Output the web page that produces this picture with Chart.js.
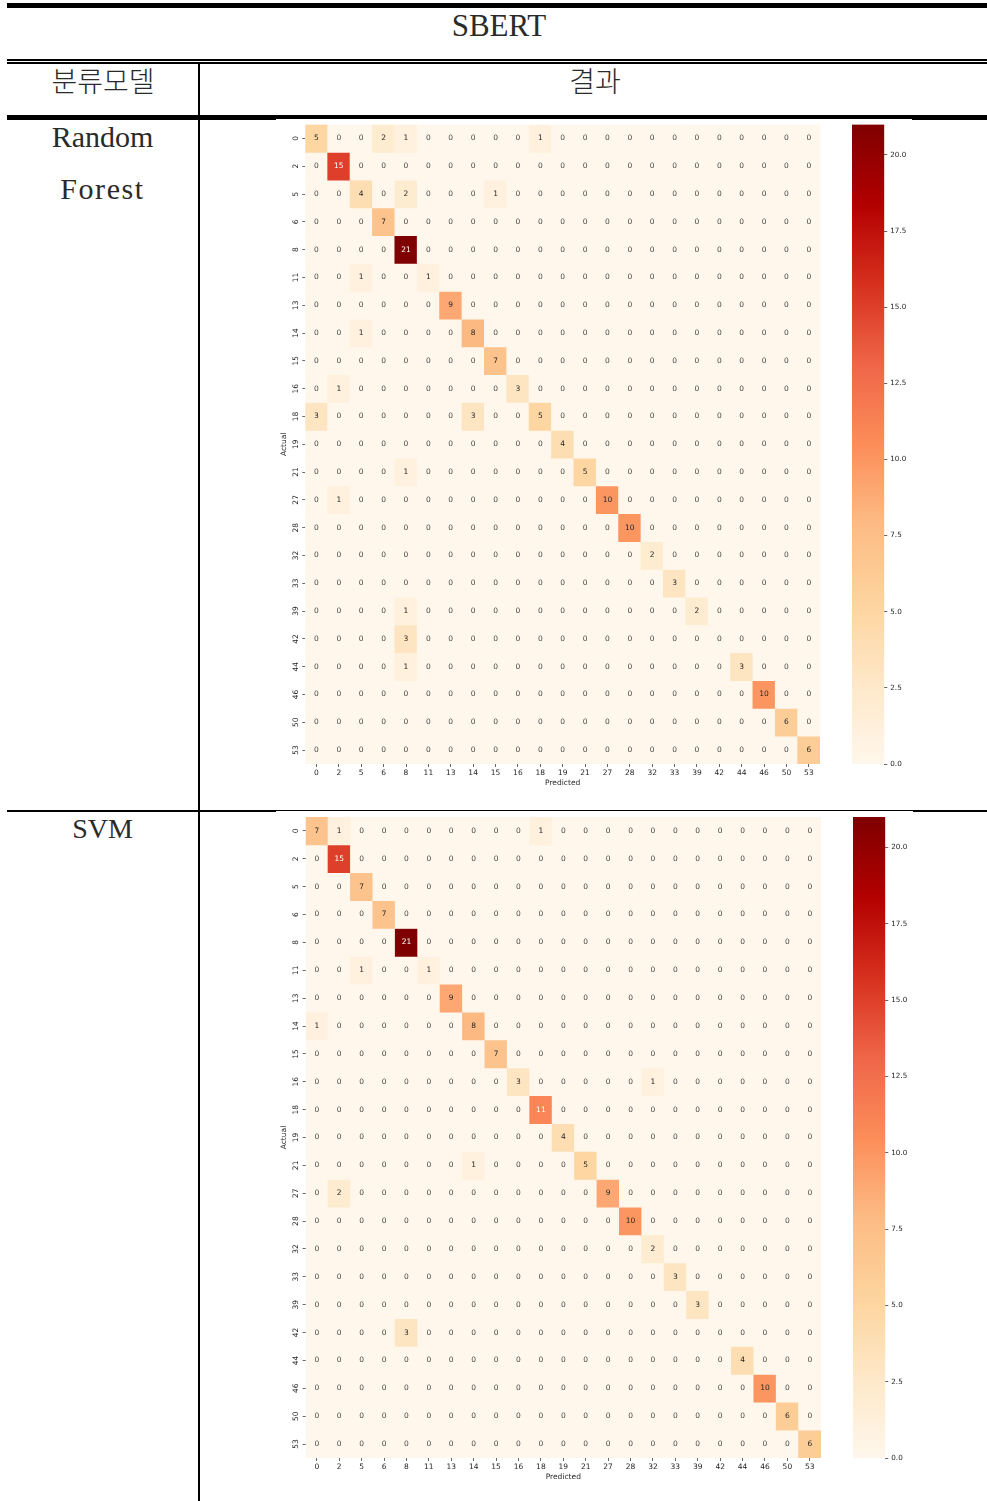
<!DOCTYPE html>
<html lang="ko">
<head>
<meta charset="utf-8">
<title>SBERT</title>
<script src="https://cdn.jsdelivr.net/npm/chart.js@4"></script>
<style>
    html, body { margin: 0; padding: 0; background: #fff; }
    #page { position: relative; width: 987px; height: 1501px; overflow: hidden; }
    .rule { position: absolute; background: #000; }
    .cell-text {
        position: absolute;
        transform: translate(-50%, -50%);
        line-height: 1;
        white-space: nowrap;
        color: #2a2a2a;
        font-family: "Liberation Serif", serif;
        font-size: 30px;
    }
    .ko { font-family: "Noto Sans CJK KR", sans-serif; font-size: 28px; font-weight: 300; }
    canvas { position: absolute; filter: blur(0.5px); }
</style>
</head>
<body>
<div id="page">
    <div class="rule" style="left:7px;top:3px;width:980px;height:5px"></div>
    <div class="rule" style="left:7px;top:59px;width:980px;height:2px"></div>
    <div class="rule" style="left:7px;top:62px;width:980px;height:2px"></div>
    <div class="rule" style="left:198px;top:64px;width:2px;height:1437px"></div>
    <div class="rule" style="left:7px;top:115px;width:269px;height:5px"></div>
    <div class="rule" style="left:276px;top:115px;width:636px;height:4px"></div>
    <div class="rule" style="left:912px;top:115px;width:75px;height:5px"></div>
    <div class="rule" style="left:7px;top:810px;width:269px;height:2px"></div>
    <div class="rule" style="left:276px;top:810px;width:637px;height:1px"></div>
    <div class="rule" style="left:913px;top:810px;width:74px;height:2px"></div>

    <div class="cell-text" style="left:499px;top:25px;font-size:31px">SBERT</div>
    <div class="cell-text ko" style="left:103px;top:80px">분류모델</div>
    <div class="cell-text ko" style="left:595px;top:80px">결과</div>
    <div class="cell-text" style="left:102.5px;top:137px">Random</div>
    <div class="cell-text" style="left:102.5px;top:189px;letter-spacing:1.6px">Forest</div>
    <div class="cell-text" style="left:102.5px;top:829px;font-size:28px">SVM</div>

    <canvas id="matriz-rf" width="555" height="675" style="left:275px;top:118px"></canvas>
    <canvas id="barra-rf" width="80" height="675" style="left:845px;top:118px"></canvas>
    <canvas id="matriz-svm" width="555" height="677" style="left:275px;top:810px"></canvas>
    <canvas id="barra-svm" width="80" height="677" style="left:846px;top:810px"></canvas>
</div>

<script>
const classLabels = ["0","2","5","6","8","11","13","14","15","16","18","19","21","27","28","32","33","39","42","44","46","50","53"];
const colorbarMax = 21;

//Random Forest, one line per actual class
const rfValues = [
    [5,0,0,2,1,0,0,0,0,0,1,0,0,0,0,0,0,0,0,0,0,0,0],
    [0,15,0,0,0,0,0,0,0,0,0,0,0,0,0,0,0,0,0,0,0,0,0],
    [0,0,4,0,2,0,0,0,1,0,0,0,0,0,0,0,0,0,0,0,0,0,0],
    [0,0,0,7,0,0,0,0,0,0,0,0,0,0,0,0,0,0,0,0,0,0,0],
    [0,0,0,0,21,0,0,0,0,0,0,0,0,0,0,0,0,0,0,0,0,0,0],
    [0,0,1,0,0,1,0,0,0,0,0,0,0,0,0,0,0,0,0,0,0,0,0],
    [0,0,0,0,0,0,9,0,0,0,0,0,0,0,0,0,0,0,0,0,0,0,0],
    [0,0,1,0,0,0,0,8,0,0,0,0,0,0,0,0,0,0,0,0,0,0,0],
    [0,0,0,0,0,0,0,0,7,0,0,0,0,0,0,0,0,0,0,0,0,0,0],
    [0,1,0,0,0,0,0,0,0,3,0,0,0,0,0,0,0,0,0,0,0,0,0],
    [3,0,0,0,0,0,0,3,0,0,5,0,0,0,0,0,0,0,0,0,0,0,0],
    [0,0,0,0,0,0,0,0,0,0,0,4,0,0,0,0,0,0,0,0,0,0,0],
    [0,0,0,0,1,0,0,0,0,0,0,0,5,0,0,0,0,0,0,0,0,0,0],
    [0,1,0,0,0,0,0,0,0,0,0,0,0,10,0,0,0,0,0,0,0,0,0],
    [0,0,0,0,0,0,0,0,0,0,0,0,0,0,10,0,0,0,0,0,0,0,0],
    [0,0,0,0,0,0,0,0,0,0,0,0,0,0,0,2,0,0,0,0,0,0,0],
    [0,0,0,0,0,0,0,0,0,0,0,0,0,0,0,0,3,0,0,0,0,0,0],
    [0,0,0,0,1,0,0,0,0,0,0,0,0,0,0,0,0,2,0,0,0,0,0],
    [0,0,0,0,3,0,0,0,0,0,0,0,0,0,0,0,0,0,0,0,0,0,0],
    [0,0,0,0,1,0,0,0,0,0,0,0,0,0,0,0,0,0,0,3,0,0,0],
    [0,0,0,0,0,0,0,0,0,0,0,0,0,0,0,0,0,0,0,0,10,0,0],
    [0,0,0,0,0,0,0,0,0,0,0,0,0,0,0,0,0,0,0,0,0,6,0],
    [0,0,0,0,0,0,0,0,0,0,0,0,0,0,0,0,0,0,0,0,0,0,6]
];

//SVM, one line per actual class
const svmValues = [
    [7,1,0,0,0,0,0,0,0,0,1,0,0,0,0,0,0,0,0,0,0,0,0],
    [0,15,0,0,0,0,0,0,0,0,0,0,0,0,0,0,0,0,0,0,0,0,0],
    [0,0,7,0,0,0,0,0,0,0,0,0,0,0,0,0,0,0,0,0,0,0,0],
    [0,0,0,7,0,0,0,0,0,0,0,0,0,0,0,0,0,0,0,0,0,0,0],
    [0,0,0,0,21,0,0,0,0,0,0,0,0,0,0,0,0,0,0,0,0,0,0],
    [0,0,1,0,0,1,0,0,0,0,0,0,0,0,0,0,0,0,0,0,0,0,0],
    [0,0,0,0,0,0,9,0,0,0,0,0,0,0,0,0,0,0,0,0,0,0,0],
    [1,0,0,0,0,0,0,8,0,0,0,0,0,0,0,0,0,0,0,0,0,0,0],
    [0,0,0,0,0,0,0,0,7,0,0,0,0,0,0,0,0,0,0,0,0,0,0],
    [0,0,0,0,0,0,0,0,0,3,0,0,0,0,0,1,0,0,0,0,0,0,0],
    [0,0,0,0,0,0,0,0,0,0,11,0,0,0,0,0,0,0,0,0,0,0,0],
    [0,0,0,0,0,0,0,0,0,0,0,4,0,0,0,0,0,0,0,0,0,0,0],
    [0,0,0,0,0,0,0,1,0,0,0,0,5,0,0,0,0,0,0,0,0,0,0],
    [0,2,0,0,0,0,0,0,0,0,0,0,0,9,0,0,0,0,0,0,0,0,0],
    [0,0,0,0,0,0,0,0,0,0,0,0,0,0,10,0,0,0,0,0,0,0,0],
    [0,0,0,0,0,0,0,0,0,0,0,0,0,0,0,2,0,0,0,0,0,0,0],
    [0,0,0,0,0,0,0,0,0,0,0,0,0,0,0,0,3,0,0,0,0,0,0],
    [0,0,0,0,0,0,0,0,0,0,0,0,0,0,0,0,0,3,0,0,0,0,0],
    [0,0,0,0,3,0,0,0,0,0,0,0,0,0,0,0,0,0,0,0,0,0,0],
    [0,0,0,0,0,0,0,0,0,0,0,0,0,0,0,0,0,0,0,4,0,0,0],
    [0,0,0,0,0,0,0,0,0,0,0,0,0,0,0,0,0,0,0,0,10,0,0],
    [0,0,0,0,0,0,0,0,0,0,0,0,0,0,0,0,0,0,0,0,0,6,0],
    [0,0,0,0,0,0,0,0,0,0,0,0,0,0,0,0,0,0,0,0,0,0,6]
];

//OrRd colormap
const orRd = [
    [255,247,236],[254,232,200],[253,212,158],[253,187,132],[252,141,89],
    [239,101,72],[215,48,31],[179,0,0],[127,0,0]
];

const tickFont = { family: "DejaVu Sans", size: 7.5 };
const textColor = "#262626";

function heatColor(value) {
    var pos = value / colorbarMax * (orRd.length - 1);
    var i = Math.min(Math.floor(pos), orRd.length - 2);
    var t = pos - i;
    var c = orRd[i].map((v, k) => Math.round(v + (orRd[i + 1][k] - v) * t));
    return "rgb(" + c.join(",") + ")";
}

//Writes the number inside each cell, white on the dark ones
function cellNumbers(values) {
    return {
        id: "cellNumbers",
        afterDatasetsDraw(chart) {
            const ctx = chart.ctx;
            ctx.save();
            ctx.font = "7.5px 'DejaVu Sans'";
            ctx.textAlign = "center";
            ctx.textBaseline = "middle";
            values.forEach((row, r) => {
                const bars = chart.getDatasetMeta(r).data;
                row.forEach((value, c) => {
                    const pos = bars[c].getCenterPoint();
                    ctx.fillStyle = value >= 11 ? "#ffffff" : textColor;
                    ctx.globalAlpha = value === 0 ? 0.85 : 1;
                    ctx.fillText(value, pos.x, pos.y);
                });
            });
            ctx.restore();
        }
    };
}

function drawMatrix(canvasId, values, box) {
    new Chart(document.getElementById(canvasId), {
        type: "bar",
        data: {
            labels: classLabels,
            //each row is a dataset of floating bars, one bar per column
            datasets: values.map((row, r) => ({
                data: row.map(() => [r, r + 1]),
                backgroundColor: row.map(heatColor),
                borderWidth: 0,
                barPercentage: 1,
                categoryPercentage: 1,
                grouped: false
            }))
        },
        options: {
            responsive: false,
            animation: false,
            layout: { padding: { top: box.top, right: box.right, left: 0, bottom: 0 } },
            plugins: { legend: { display: false }, tooltip: { enabled: false } },
            scales: {
                x: {
                    afterFit(axis) { axis.height = box.xAxis; axis.paddingLeft = 0; axis.paddingRight = 0; },
                    border: { display: false },
                    grid: { drawOnChartArea: false, offset: false, tickLength: 3, color: textColor, lineWidth: 0.7 },
                    ticks: { autoSkip: false, maxRotation: 0, padding: 2, color: textColor, font: tickFont },
                    title: { display: true, text: "Predicted", color: textColor, font: tickFont, padding: { top: 0, bottom: 5 } }
                },
                y: {
                    type: "linear",
                    min: 0,
                    max: classLabels.length,
                    reverse: true,
                    afterBuildTicks(axis) { axis.ticks = classLabels.map((l, i) => ({ value: i + 0.5 })); },
                    afterFit(axis) { axis.width = box.yAxis; axis.paddingTop = 0; axis.paddingBottom = 0; },
                    border: { display: false },
                    grid: { drawOnChartArea: false, tickLength: 3, color: textColor, lineWidth: 0.7 },
                    ticks: {
                        autoSkip: false,
                        minRotation: 90,
                        maxRotation: 90,
                        crossAlign: "center",
                        padding: 1.3,
                        color: textColor,
                        font: tickFont,
                        callback: v => classLabels[v - 0.5]
                    },
                    title: { display: true, text: "Actual", color: textColor, font: tickFont, padding: { top: 5, bottom: 0 } }
                }
            }
        },
        plugins: [cellNumbers(values)]
    });
}

function drawColorbar(canvasId, box) {
    new Chart(document.getElementById(canvasId), {
        type: "bar",
        data: {
            labels: ["colorbar"],
            datasets: [{
                data: [[0, colorbarMax]],
                barPercentage: 1,
                categoryPercentage: 1,
                borderWidth: 0,
                backgroundColor(context) {
                    const area = context.chart.chartArea;
                    if (!area) return orRd[0];
                    const gradient = context.chart.ctx.createLinearGradient(0, area.bottom, 0, area.top);
                    orRd.forEach((c, i) => gradient.addColorStop(i / (orRd.length - 1), "rgb(" + c.join(",") + ")"));
                    return gradient;
                }
            }]
        },
        options: {
            responsive: false,
            animation: false,
            layout: { padding: { top: box.top, left: box.left, right: 0, bottom: box.bottom } },
            plugins: { legend: { display: false }, tooltip: { enabled: false } },
            scales: {
                x: { display: false },
                y: {
                    position: "right",
                    min: 0,
                    max: colorbarMax,
                    afterFit(axis) { axis.width = box.yAxis; axis.paddingTop = 0; axis.paddingBottom = 0; },
                    border: { display: false },
                    grid: { drawOnChartArea: false, tickLength: 3, color: textColor, lineWidth: 0.7 },
                    ticks: {
                        stepSize: 2.5,
                        includeBounds: false,
                        padding: 3,
                        color: textColor,
                        font: { family: "DejaVu Sans", size: 7.2 },
                        callback: v => v.toFixed(1)
                    }
                }
            }
        }
    });
}

drawMatrix("matriz-rf", rfValues, { top: 6.5, right: 10, xAxis: 29, yAxis: 30.3 });
drawColorbar("barra-rf", { top: 6.5, left: 7, bottom: 29, yAxis: 40.7 });
drawMatrix("matriz-svm", svmValues, { top: 7, right: 9, xAxis: 29, yAxis: 30.6 });
drawColorbar("barra-svm", { top: 7, left: 7, bottom: 29, yAxis: 40.7 });
</script>
</body>
</html>
